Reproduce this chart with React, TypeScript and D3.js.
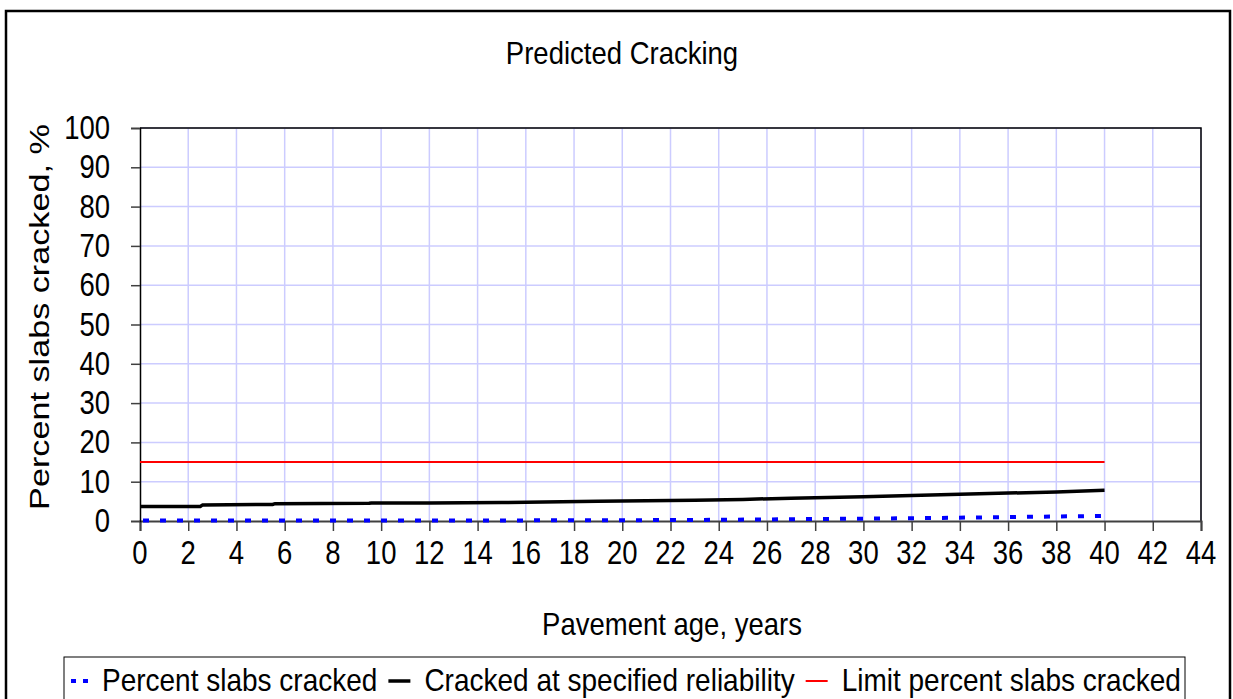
import React, { useEffect, useRef } from "react";
import * as d3 from "d3";

// pavement age (years) and predicted cracking (%)
const reliabilityYears = [0, 2.5, 2.6, 5.5, 5.6, 9.5, 9.6, 12, 15, 19, 23, 25, 27, 30, 32, 34, 36, 38, 40];
const reliabilityValues = [3.7, 3.7, 4.1, 4.2, 4.4, 4.5, 4.6, 4.6, 4.7, 5.0, 5.3, 5.5, 5.8, 6.2, 6.5, 6.8, 7.1, 7.4, 7.8];

const crackedYears = [0, 10, 20, 24, 28, 32, 36, 40];
const crackedValues = [0.1, 0.1, 0.2, 0.3, 0.5, 0.7, 1.0, 1.3];

const limitYears = [0, 40];
const limitValues = [15, 15];

const xTicks = d3.range(0, 45, 2);
const yTicks = d3.range(0, 101, 10);

const legendLabels = ["Percent slabs cracked", "Cracked at specified reliability", "Limit percent slabs cracked"];

const W = 1233;
const H = 699;
const FONT = "'Liberation Sans', Arial, sans-serif";

function App() {
  const ref = useRef<SVGSVGElement>(null);

  useEffect(() => {
    document.body.style.margin = "0";
    const svg = d3.select(ref.current);
    svg.selectAll("*").remove();

    const left = 140, right = 1201, top = 128, bottom = 521;

    const x = d3.scaleLinear().domain([0, 44]).range([left, right]);
    const y = d3.scaleLinear().domain([0, 100]).range([bottom, top]);

    // outer frame
    svg.append("rect")
      .attr("x", 6).attr("y", 11)
      .attr("width", 1224).attr("height", 720)
      .attr("fill", "white")
      .attr("stroke", "black").attr("stroke-width", 2.5);

    const txt = (px: number, py: number, s: string, anchor: string, size = 27.5, stretch = 1.18, rot = 0) =>
      svg.append("text")
        .attr("transform", `translate(${px},${py}) scale(1,${stretch})` + (rot ? ` rotate(${rot})` : ""))
        .attr("text-anchor", anchor)
        .attr("font-family", FONT)
        .attr("font-size", size)
        .attr("fill", "black")
        .text(s);

    txt(622, 64, "Predicted Cracking", "middle", 27.5, 1.12);

    // grid
    svg.append("g").selectAll("line").data(xTicks.slice(1)).enter().append("line")
      .attr("x1", d => x(d)).attr("x2", d => x(d))
      .attr("y1", top).attr("y2", bottom)
      .attr("stroke", "#ccccff").attr("stroke-width", 1.5);
    svg.append("g").selectAll("line").data(yTicks.slice(1)).enter().append("line")
      .attr("x1", left).attr("x2", right)
      .attr("y1", d => y(d)).attr("y2", d => y(d))
      .attr("stroke", "#ccccff").attr("stroke-width", 1.5);

    // plot border top/right
    svg.append("path")
      .attr("d", `M${left},${top}H${right}V${bottom}`)
      .attr("fill", "none").attr("stroke", "black").attr("stroke-width", 1.5);

    // axes
    const xAxis = svg.append("g")
      .attr("transform", `translate(0,${bottom})`)
      .call(d3.axisBottom(x).tickValues(xTicks).tickSize(10).tickFormat(() => ""));
    xAxis.select(".domain").attr("stroke", "#404040").attr("stroke-width", 2);
    xAxis.selectAll(".tick line").attr("stroke", "#404040").attr("stroke-width", 1.5);

    const yAxis = svg.append("g")
      .attr("transform", `translate(${left},0)`)
      .call(d3.axisLeft(y).tickValues(yTicks).tickSize(9).tickFormat(() => ""));
    yAxis.select(".domain").attr("stroke", "black").attr("stroke-width", 1.5);
    yAxis.selectAll(".tick line").attr("stroke", "#404040").attr("stroke-width", 1.5);

    xTicks.forEach(t => txt(x(t), 564, String(t), "middle"));
    yTicks.forEach(t => txt(110, y(t) + 11, String(t), "end"));

    txt(672, 635, "Pavement age, years", "middle", 27.5, 1.12);
    txt(49, 317, "Percent slabs cracked, %", "middle", 28.5, 1.2, -90);

    const line = d3.line<[number, number]>().x(d => x(d[0])).y(d => y(d[1]));
    const pairs = (xs: number[], ys: number[]) => xs.map((v, i) => [v, ys[i]] as [number, number]);

    svg.append("path").datum(pairs(limitYears, limitValues))
      .attr("d", line).attr("fill", "none").attr("stroke", "#ff0000").attr("stroke-width", 2);
    svg.append("path").datum(pairs(reliabilityYears, reliabilityValues))
      .attr("d", line).attr("fill", "none").attr("stroke", "black").attr("stroke-width", 3.5);
    svg.append("path").datum(pairs(crackedYears, crackedValues))
      .attr("d", line).attr("fill", "none").attr("stroke", "#0000ff").attr("stroke-width", 4)
      .attr("stroke-dasharray", "6,11").attr("stroke-dashoffset", -3);

    // legend
    svg.append("rect")
      .attr("x", 64).attr("y", 657).attr("width", 1121).attr("height", 80)
      .attr("fill", "white").attr("stroke", "black").attr("stroke-width", 1);

    const legendItems = [
      { x0: 71, x1: 88, color: "#0000ff", width: 4, dash: "5,7" },
      { x0: 0, x1: 22, color: "black", width: 3.5, dash: null },
      { x0: 0, x1: 22, color: "#ff0000", width: 2, dash: null },
    ];
    let cx = 71;
    legendItems.forEach((it, i) => {
      const len = it.x1 - it.x0;
      const lx = i === 0 ? it.x0 : cx;
      svg.append("line")
        .attr("x1", lx).attr("x2", lx + len).attr("y1", 681).attr("y2", 681)
        .attr("stroke", it.color).attr("stroke-width", it.width)
        .attr("stroke-dasharray", it.dash);
      const t = txt(lx + len + 14, 691, legendLabels[i], "start", 28, 1.12);
      const w = (t.node() as SVGTextElement).getComputedTextLength();
      cx = lx + len + 14 + w + 11;
    });
  }, []);

  return <svg ref={ref} width={W} height={H} style={{ display: "block" }} />;
}

export default App;
